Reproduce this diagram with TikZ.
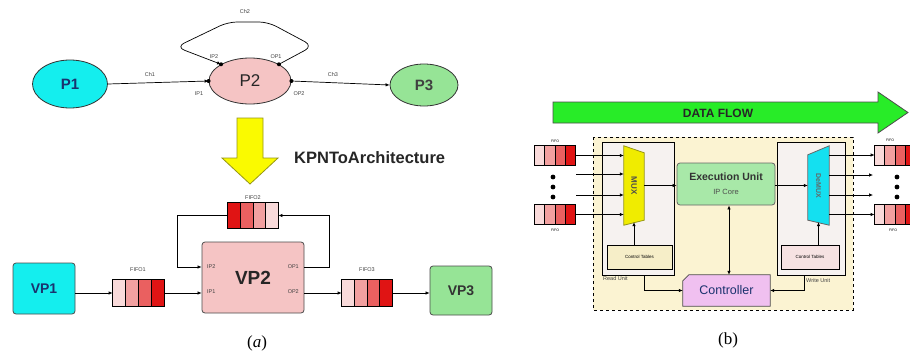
\documentclass[tikz,border=0pt]{standalone}
\usepackage{fontspec}
\setmainfont{Liberation Sans}
\newfontfamily\serifrm{Liberation Serif}
\usetikzlibrary{shapes.geometric,calc,arrows.meta}
\definecolor{cyanP}{RGB}{20,238,238}
\definecolor{pinkP}{RGB}{245,196,196}
\definecolor{greenP}{RGB}{150,228,150}
\definecolor{navyT}{RGB}{26,50,110}
\definecolor{fA}{RGB}{249,218,218}
\definecolor{fB}{RGB}{242,160,160}
\definecolor{fC}{RGB}{234,96,96}
\definecolor{fD}{RGB}{224,20,20}
\definecolor{yelA}{RGB}{250,250,0}
\definecolor{oliveA}{RGB}{150,150,20}
\definecolor{flowG}{RGB}{40,236,40}
\definecolor{beigeB}{RGB}{251,243,210}
\definecolor{unitB}{RGB}{246,242,240}
\definecolor{ctYel}{RGB}{246,238,200}
\definecolor{ctPink}{RGB}{246,226,226}
\definecolor{muxY}{RGB}{240,236,0}
\definecolor{demuxC}{RGB}{20,224,240}
\definecolor{execG}{RGB}{168,232,168}
\definecolor{ctrlV}{RGB}{240,192,240}
\newcommand\fsz[1]{\fontsize{#1}{#1}\selectfont}
\newcommand\fifocells[5]{%
  \foreach \i/\c in {0/#2,1/#3,2/#4,3/#5}{%
    \filldraw[draw=black, line width=0.7pt, fill=\c] ($(#1.north west)!\i/4!(#1.north east)$) rectangle ($(#1.south west)!{(\i+1)/4}!(#1.south east)$);
  }}
\begin{document}
\begin{tikzpicture}[x=1pt,y=-1pt,
  arr/.style={draw=black, line width=0.7pt, -{Latex[length=4pt,width=3.5pt]}},
  line/.style={draw=black, line width=0.7pt},
  proc/.style={ellipse, draw=black!80, line width=0.8pt, inner sep=0pt},
  vproc/.style={rectangle, rounded corners=3pt, draw=black!70, line width=0.8pt, inner sep=0pt},
  fifobox/.style={rectangle, draw=black, line width=0.7pt, inner sep=0pt},
  tiny/.style={font=\fsz{5.5}, text=black!75, inner sep=0pt},
  port/.style={circle, fill=black, inner sep=0pt, minimum size=4pt}]
\useasboundingbox (0,0) rectangle (910,356);
\clip (0,0) rectangle (910,356);
\fill[white] (0,0) rectangle (910,356);

% ---------------- (a) top: KPN ----------------
\node[proc, fill=cyanP, minimum width=75, minimum height=48, text=navyT, font=\bfseries\fsz{15}] (P1) at (70,84) {P1};
\node[proc, fill=pinkP, minimum width=82, minimum height=46, text=black!85, font=\fsz{17}] (P2) at (250,81) {P2};
\node[proc, fill=greenP, minimum width=68, minimum height=42, text=black!75, font=\bfseries\fsz{15}] (P3) at (424,85) {P3};

\draw[arr] (P1.east) -- (P2.west);
\draw[arr] (P2.east) -- (P3.west);
\draw[arr, rounded corners=9pt] (P2.30) -- (313,46) -- (268,22) -- (228,22) -- (176,47) -- (P2.150);
\node[port] at (P2.west) {};
\node[port] at (P2.east) {};
\node[port] at (P2.30) {};
\node[port] at (P2.150) {};

\node[tiny] (ch1) at (150,75) {Ch1};
\node[tiny] (ch3) at (333,75) {Ch3};
\node[tiny] (ch2) at (245,12) {Ch2};
\node[tiny] (lip2) at (214,57) {IP2};
\node[tiny] (lop1) at (276,57) {OP1};
\node[tiny] (lip1) at (199,94) {IP1};
\node[tiny] (lop2) at (299,94) {OP2};

% transformation arrow
\draw[fill=yelA, draw=oliveA, line width=0.8pt] (237,118) -- (263,118) -- (263,158) -- (278,158) -- (250,184) -- (222,158) -- (237,158) -- cycle;
\node[anchor=west, font=\bfseries\fsz{16.5}, text=black!85, inner sep=0pt] (kpn) at (294,158) {KPNToArchitecture};

% ---------------- (a) bottom: architecture ----------------
\node[vproc, fill=cyanP, minimum width=62, minimum height=51, text=navyT, font=\bfseries\fsz{14}] (VP1) at (44,288.5) {VP1};
\node[vproc, fill=pinkP, minimum width=102, minimum height=71, text=black!85, font=\bfseries\fsz{19}] (VP2) at (253,277.5) {VP2};
\node[vproc, fill=greenP, minimum width=62, minimum height=49, text=black!80, font=\bfseries\fsz{14}] (VP3) at (461,290.5) {VP3};

\node[fifobox, minimum width=51, minimum height=26] (FIFO1) at (138.5,293) {};
\fifocells{FIFO1}{fA}{fB}{fC}{fD}
\node[fifobox, minimum width=50, minimum height=25] (FIFO2) at (253,215.5) {};
\fifocells{FIFO2}{fD}{fC}{fB}{fA}
\node[fifobox, minimum width=50, minimum height=26] (FIFO3) at (367,293) {};
\fifocells{FIFO3}{fA}{fB}{fC}{fD}

\node[tiny] (lf1) at (138,270) {FIFO1};
\node[tiny] (lf2) at (253,198) {FIFO2};
\node[tiny] (lf3) at (367,270) {FIFO3};

\draw[arr] (VP1.east |- FIFO1.west) -- (FIFO1.west);
\draw[arr] (FIFO1.east) -- (VP2.west |- FIFO1.east);
\draw[arr] (VP2.east |- FIFO3.west) -- (FIFO3.west);
\draw[arr] (FIFO3.east) -- (VP3.west |- FIFO3.east);
\coordinate (lc) at (177,267);
\coordinate (rc) at (329,267);
\draw[arr] (FIFO2.west) -| (lc) -- (VP2.west |- lc);
\draw[arr] (VP2.east |- rc) -- (rc) |- (FIFO2.east);

\node[tiny, anchor=west] (vip2) at (207,267) {IP2};
\node[tiny, anchor=west] (vip1) at (207,292) {IP1};
\node[tiny, anchor=east] (vop1) at (299,267) {OP1};
\node[tiny, anchor=east] (vop2) at (299,292) {OP2};

\node[font=\serifrm\fsz{17}, inner sep=0pt] (capa) at (257,343) {(\textit{a})};

% ---------------- (b) ----------------
\draw[fill=flowG, draw=black!70, line width=0.8pt] (553,102) -- (878,102) -- (878,92) -- (908,112.5) -- (878,133) -- (878,123) -- (553,123) -- cycle;
\node[font=\bfseries\fsz{12}, text=black!85, inner sep=0pt] (flow) at (718,113) {DATA FLOW};

\draw[fill=beigeB, draw=black, dashed, line width=1pt] (593,137) rectangle (853,310);

\node[rectangle, draw=black, line width=0.8pt, fill=unitB, minimum width=72, minimum height=133, inner sep=0pt] (readu) at (638,208.5) {};
\node[rectangle, draw=black, line width=0.8pt, fill=unitB, minimum width=68, minimum height=133, inner sep=0pt] (writeu) at (811,208.5) {};
\node[rectangle, draw=black, line width=0.8pt, fill=ctYel, minimum width=65, minimum height=24, inner sep=0pt, font=\fsz{4.5}] (ctA) at (639.5,257) {Control Tables};
\node[rectangle, draw=black, line width=0.8pt, fill=ctPink, minimum width=58, minimum height=24, inner sep=0pt, font=\fsz{4.5}] (ctB) at (810,257) {Control Tables};

% MUX / DeMUX
\node[inner sep=0pt, minimum width=20, minimum height=79] (mux) at (634,185.5) {};
\draw[fill=muxY, draw=oliveA, line width=0.8pt] (mux.north west) -- ($(mux.north east)+(0,7)$) -- ($(mux.south east)+(0,-5)$) -- (mux.south west) -- cycle;
\node[rotate=-90, font=\bfseries\fsz{8}, text=black!70] at (mux) {MUX};
\node[inner sep=0pt, minimum width=21, minimum height=79] (demux) at (818.5,185.5) {};
\draw[fill=demuxC, draw=black!60, line width=0.8pt] (demux.north east) -- (demux.south east) -- ($(demux.south west)+(0,-5)$) -- ($(demux.north west)+(0,9)$) -- cycle;
\node[rotate=-90, font=\bfseries\fsz{7}, text=black!60] at (demux) {DeMUX};

% execution unit and controller
\node[rectangle, rounded corners=3pt, draw=black!60, line width=0.8pt, fill=execG, minimum width=98, minimum height=42, inner sep=0pt] (exec) at (726,184) {};
\node[font=\bfseries\fsz{10.5}, text=black!80, inner sep=0pt] (exect) at (726,177) {Execution Unit};
\node[font=\fsz{7.5}, text=black!70, inner sep=0pt] (execs) at (726,192) {IP Core};

\node[inner sep=0pt, minimum width=87, minimum height=31] (ctrl) at (726.5,290.5) {};
\draw[fill=ctrlV, draw=black!70, line width=0.8pt] ($(ctrl.north west)+(6,0)$) -- (ctrl.north east) -- (ctrl.south east) -- (ctrl.south west) -- ($(ctrl.north west)+(0,6)$) -- cycle;
\node[font=\fsz{12.5}, text=navyT, inner sep=0pt] at (ctrl) {Controller};

% FIFOs of (b)
\node[fifobox, minimum width=40, minimum height=19] (fifoA) at (555,155.5) {};
\fifocells{fifoA}{fA}{fB}{fC}{fD}
\node[fifobox, minimum width=40, minimum height=19] (fifoB) at (555,214.5) {};
\fifocells{fifoB}{fA}{fB}{fC}{fD}
\node[fifobox, minimum width=40, minimum height=19] (fifoC) at (895,155) {};
\fifocells{fifoC}{fA}{fB}{fC}{fD}
\node[fifobox, minimum width=40, minimum height=19] (fifoD) at (895,214.5) {};
\fifocells{fifoD}{fA}{fB}{fC}{fD}
\node[font=\fsz{3.5}, inner sep=0pt] (lfa) at (555,141) {FIFO};
\node[font=\fsz{3.5}, inner sep=0pt] (lfb) at (555,230) {FIFO};
\node[font=\fsz{3.5}, inner sep=0pt] (lfc) at (890,140) {FIFO};
\node[font=\fsz{3.5}, inner sep=0pt] (lfd) at (893,230) {FIFO};
\foreach \yy in {177,187,197}{
  \fill (553,\yy) circle (2.4pt);
  \fill (897,\yy) circle (2.4pt);
}

% arrows of (b)
\coordinate (in2) at (576,174);
\coordinate (in3) at (576,195);
\coordinate (out2) at (873,175);
\coordinate (out3) at (873,195);
\draw[arr] (fifoA.east) -- (mux.west |- fifoA.east);
\draw[arr] (in2) -- (mux.west |- in2);
\draw[arr] (in3) -- (mux.west |- in3);
\draw[arr] (fifoB.east) -- (mux.west |- fifoB.east);
\draw[arr] (demux.east |- fifoC.west) -- (fifoC.west);
\draw[arr] (demux.east |- out2) -- (out2);
\draw[arr] (demux.east |- out3) -- (out3);
\draw[arr] (demux.east |- fifoD.west) -- (fifoD.west);
\draw[arr] (mux.east) -- (exec.west |- mux.east);
\draw[arr] (exec.east |- demux.west) -- (demux.west);
\draw[line, {Latex[length=4pt,width=3.5pt]}-{Latex[length=4pt,width=3.5pt]}] ($(exec.south)+(3,0)$) -- ($(exec.south |- ctrl.north)+(3,0)$);
\draw[arr] (mux.south |- ctA.north) -- ($(mux.south)+(0,-3)$);
\draw[arr] (demux.south |- ctB.north) -- ($(demux.south)+(0,-3)$);
\draw[arr] ($(readu.south)+(6,0)$) |- (ctrl.west);
\draw[arr] ($(writeu.south)+(-7,0)$) |- (ctrl.east);
\node[font=\fsz{5.5}, anchor=west, inner sep=0pt, text=black!75] (lread) at (603,279) {Read Unit};
\node[font=\fsz{5.5}, anchor=west, inner sep=0pt, text=black!75] (lwrite) at (806,281) {Write Unit};

\node[font=\serifrm\fsz{17}, inner sep=0pt] (capb) at (728,340) {(b)};
\end{tikzpicture}
\end{document}
